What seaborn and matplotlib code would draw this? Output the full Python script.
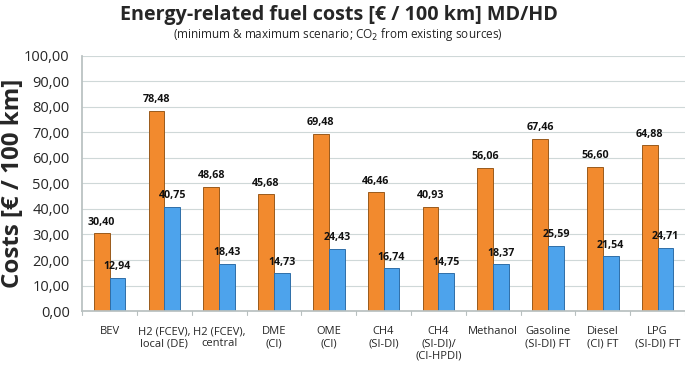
import pandas as pd, numpy as np
import matplotlib; matplotlib.use("Agg")
import matplotlib.pyplot as plt
import seaborn as sns
from matplotlib.ticker import FuncFormatter

# ── data ─────────────────────────────────────────────────────────────────────
FUELS = ["BEV", "H2 (FCEV),\nlocal (DE)", "H2 (FCEV),\ncentral", "DME\n(CI)", "OME\n(CI)",
         "CH4\n(SI-DI)", "CH4\n(SI-DI)/\n(CI-HPDI)", "Methanol", "Gasoline\n(SI-DI) FT",
         "Diesel\n(CI) FT", "LPG\n(SI-DI) FT"]
MAX_COST = [30.40, 78.48, 48.68, 45.68, 69.48, 46.46, 40.93, 56.06, 67.46, 56.60, 64.88]
MIN_COST = [12.94, 40.75, 18.43, 14.73, 24.43, 16.74, 14.75, 18.37, 25.59, 21.54, 24.71]

ORANGE = "#F28A2E"
BLUE = "#4DA3EC"

df = pd.concat([
    pd.DataFrame({"fuel": FUELS, "cost": MAX_COST, "scen": "max"}),
    pd.DataFrame({"fuel": FUELS, "cost": MIN_COST, "scen": "min"}),
])

sns.set_theme(style="white")
plt.rcParams["font.family"] = ["Open Sans", "DejaVu Sans"]

fig = plt.figure(figsize=(6.85, 3.66), dpi=100)
ax = fig.add_axes([0.12, 0.15, 0.88, 0.698])

sns.barplot(data=df, x="fuel", y="cost", hue="scen", palette=[ORANGE, BLUE],
            saturation=1, width=0.58, gap=0, ax=ax, legend=False,
            edgecolor="#9a5a1c", linewidth=0.7)
for p in ax.patches[len(FUELS):]:
    p.set_edgecolor("#2f6ea8")

for cont in ax.containers:
    ax.bar_label(cont, labels=[f"{v:.2f}".replace(".", ",") for v in cont.datavalues],
                 padding=4, fontsize=7.7, fontweight="bold", color="#111111")

ax.set_ylim(0, 100)
ax.set_yticks(np.arange(0, 101, 10))
ax.yaxis.set_major_formatter(FuncFormatter(lambda v, _: f"{v:.2f}".replace(".", ",")))
ax.grid(axis="y", color="#cfd8d8", linewidth=0.8)
ax.set_axisbelow(True)
ax.set_xlim(-0.5, len(FUELS) - 0.5)
ax.set_xticks(np.arange(len(FUELS)))
ax.set_xticklabels(FUELS, fontsize=8.0, linespacing=1.12)
ax.tick_params(axis="y", labelsize=10.5, pad=9, length=0)
ax.tick_params(axis="x", length=0, pad=11)
# category separator ticks
for xb in np.arange(-0.5, len(FUELS), 1.0):
    ax.plot([xb, xb], [0, -1.6], color="#b8c0c0", lw=0.8, clip_on=False)
for s in ["top", "right"]:
    ax.spines[s].set_visible(False)
ax.spines["left"].set_color("#b8c0c0")
ax.spines["bottom"].set_color("#b8c0c0")
ax.set_xlabel("")
ax.set_ylabel("Costs [€ / 100 km]", fontsize=17.4, fontweight="bold", va="center")
ax.yaxis.set_label_coords(-0.114, 0.5)

fig.text(0.495, 0.958, "Energy-related fuel costs [€ / 100 km] MD/HD",
         ha="center", va="center", fontsize=14.2, fontweight="bold")
fig.text(0.494, 0.905, "(minimum & maximum scenario; CO$_2$ from existing sources)",
         ha="center", va="center", fontsize=8.45)

fig.savefig("out.png", dpi=100)
